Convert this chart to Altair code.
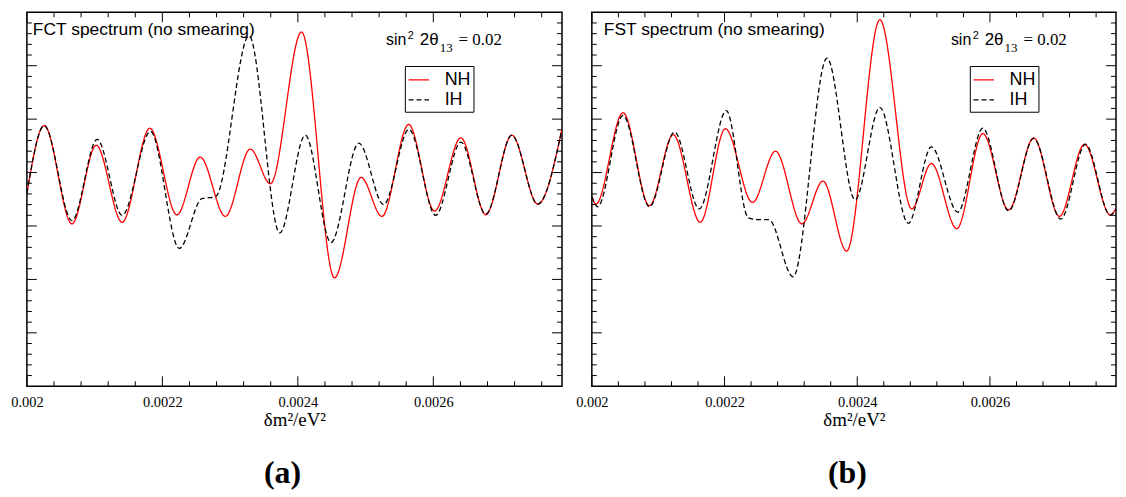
import altair as alt
import pandas as pd

# ---------------- data ----------------
# (a) FCT spectrum
fct_nh_x = [0.002000, 0.0020256, 0.0020665, 0.0021023, 0.0021406, 0.0021815, 0.0022214,
            0.0022557, 0.0022930, 0.0023298, 0.0023595, 0.0024055, 0.0024541, 0.0024934,
            0.0025241, 0.0025635, 0.0026018, 0.0026407, 0.0026775, 0.0027159, 0.0027542, 0.00279]
fct_nh_y = [3.61, 4.88, 3.04, 4.51, 3.07, 4.83, 3.21, 4.29, 3.18, 4.44, 3.79, 6.63, 2.03,
            3.91, 3.18, 4.90, 3.28, 4.65, 3.21, 4.70, 3.41, 4.82]
fct_ih_x = [0.002000, 0.0020256, 0.0020665, 0.0021038, 0.0021406, 0.0021825, 0.0022250,
            0.0022582, 0.0022787, 0.0023280, 0.0023733, 0.0024110, 0.0024489, 0.0024900,
            0.0025267, 0.0025640, 0.0026034, 0.0026407, 0.0026775, 0.0027159, 0.0027542, 0.00279]
fct_ih_y = [3.61, 4.88, 3.10, 4.62, 3.20, 4.77, 2.58, 3.51, 3.55, 6.56, 2.87, 4.70, 2.69,
            4.55, 3.40, 4.81, 3.20, 4.57, 3.22, 4.70, 3.41, 4.82]

# (b) FST spectrum
fst_nh_x = [0.002000, 0.0020061, 0.0020470, 0.0020868, 0.0021226, 0.0021634, 0.0022012,
            0.0022421, 0.0022768, 0.0023166, 0.0023483, 0.0023840, 0.0024341, 0.0024821,
            0.0025117, 0.0025500, 0.0025893, 0.0026281, 0.0026659, 0.0027047, 0.0027425,
            0.0027813, 0.00279]
fst_nh_y = [3.55, 3.41, 5.12, 3.38, 4.71, 3.07, 4.82, 3.44, 4.40, 3.04, 3.84, 2.53, 6.86,
            3.32, 4.17, 2.95, 4.73, 3.30, 4.65, 3.18, 4.53, 3.21, 3.33]
fst_ih_x = [0.002000, 0.0020087, 0.0020470, 0.0020868, 0.0021246, 0.0021619, 0.0022027,
            0.0022359, 0.0022513, 0.0022666, 0.0023033, 0.0023544, 0.0023968, 0.0024341,
            0.0024770, 0.0025117, 0.0025515, 0.0025893, 0.0026281, 0.0026659, 0.0027068,
            0.0027440, 0.0027813, 0.00279]
fst_ih_y = [3.55, 3.36, 5.07, 3.36, 4.76, 3.32, 5.16, 3.15, 3.12, 3.12, 2.05, 6.14, 3.49,
            5.22, 3.05, 4.48, 3.26, 4.83, 3.28, 4.64, 3.13, 4.53, 3.20, 3.32]

series_names = ["NH", "IH"]
series_colors = ["#ff0000", "#000000"]
series_dash = [[1, 0], [5, 3]]

x_major = [0.002, 0.0022, 0.0024, 0.0026]
x_minor = [0.00204, 0.00208, 0.00212, 0.00216, 0.00224, 0.00228, 0.00232, 0.00236,
           0.00244, 0.00248, 0.00252, 0.00256, 0.00264, 0.00268, 0.00272, 0.00276]
y_major = [1, 2, 3, 4, 5, 6]
y_minor = [0.2, 0.4, 0.6, 0.8, 1.2, 1.4, 1.6, 1.8, 2.2, 2.4, 2.6, 2.8, 3.2, 3.4, 3.6, 3.8,
           4.2, 4.4, 4.6, 4.8, 5.2, 5.4, 5.6, 5.8, 6.2, 6.4, 6.6, 6.8]

X_DOMAIN = [0.002, 0.00279]
Y_DOMAIN = [0, 7]
H = 376
SANS = "Liberation Sans"
SERIF = "Liberation Serif"

X_AXIS = alt.Axis(
    values=x_major, format="~g", ticks=False, tickSize=0, domain=False, grid=False,
    labelFont=SERIF, labelFontSize=14.5, labelColor="black", labelFlush=False,
    labelBaseline="alphabetic", labelPadding=20,
    title="δm²/eV²", titleFont=SERIF, titleFontSize=19, titleFontWeight="normal",
    titleColor="black", titleBaseline="alphabetic", titleY=39)


def tick_layers(W, xs, ys):
    layers = []
    for vals, ln in ((x_major, 10), (x_minor, 5)):
        d = pd.DataFrame({"x": vals})
        layers.append(alt.Chart(d).mark_rule(color="black", strokeWidth=1).encode(
            x=alt.X("x:Q", scale=xs, axis=X_AXIS), y=alt.value(H), y2=alt.value(H - ln)))
        layers.append(alt.Chart(d).mark_rule(color="black", strokeWidth=1).encode(
            x=alt.X("x:Q", scale=xs, axis=X_AXIS), y=alt.value(0), y2=alt.value(ln)))
    for vals, ln in ((y_major, 10), (y_minor, 5)):
        d = pd.DataFrame({"y": vals})
        layers.append(alt.Chart(d).mark_rule(color="black", strokeWidth=1).encode(
            y=alt.Y("y:Q", scale=ys, axis=None), x=alt.value(0), x2=alt.value(ln)))
        layers.append(alt.Chart(d).mark_rule(color="black", strokeWidth=1).encode(
            y=alt.Y("y:Q", scale=ys, axis=None), x=alt.value(W), x2=alt.value(W - ln)))
    return layers


def text_layer(txt, x, y, font, size, weight="normal", align="left"):
    return alt.Chart(pd.DataFrame({"s": [txt]})).mark_text(
        align=align, baseline="alphabetic", font=font, fontSize=size,
        fontWeight=weight, color="black").encode(
        x=alt.value(x), y=alt.value(y), text="s:N")


def panel(W, nh_x, nh_y, ih_x, ih_y, title, title_dx, caption):
    xs = alt.Scale(domain=X_DOMAIN, nice=False, zero=False)
    ys = alt.Scale(domain=Y_DOMAIN, nice=False, zero=False)
    df = pd.concat([
        pd.DataFrame({"x": nh_x, "y": nh_y, "h": "NH"}),
        pd.DataFrame({"x": ih_x, "y": ih_y, "h": "IH"}),
    ])
    leg = alt.Legend(orient="none", legendX=380, legendY=54, title=None,
                     strokeColor="black", fillColor="white", padding=3,
                     symbolType="stroke", symbolSize=420, symbolStrokeWidth=1.3,
                     labelFont=SANS, labelFontSize=18, labelColor="black",
                     labelOffset=15, rowPadding=0, direction="vertical")
    lines = alt.Chart(df).mark_line(interpolate="monotone", strokeWidth=1.3, clip=True).encode(
        x=alt.X("x:Q", scale=xs, axis=X_AXIS),
        y=alt.Y("y:Q", scale=ys, axis=None),
        color=alt.Color("h:N", scale=alt.Scale(domain=series_names, range=series_colors), legend=leg),
        strokeDash=alt.StrokeDash("h:N", scale=alt.Scale(domain=series_names, range=series_dash), legend=leg),
    )
    texts = [
        text_layer(title, title_dx, 22.5, SANS, 17.5),
        text_layer("sin", 361, 32.7, SANS, 16),
        text_layer("2", 383, 26.5, SANS, 11),
        text_layer("2θ", 395, 32.7, SANS, 17),
        text_layer("13", 415, 39.5, SERIF, 13),
        text_layer("= 0.02", 434, 32.7, SERIF, 17),
        text_layer(caption, 257, H + 97, SERIF, 32, "bold", "center"),
    ]
    return alt.layer(lines, *tick_layers(W, xs, ys), *texts).properties(width=W, height=H)


left = panel(538, fct_nh_x, fct_nh_y, fct_ih_x, fct_ih_y, "FCT spectrum (no smearing)", 6, "(a)")
right = panel(527, fst_nh_x, fst_nh_y, fst_ih_x, fst_ih_y, "FST spectrum (no smearing)", 12, "(b)")

chart = alt.hconcat(left, right, spacing=30, bounds="flush").resolve_scale(
    color="independent", strokeDash="independent", x="independent", y="independent"
).configure_view(stroke="black", strokeWidth=1.5).properties(
    padding={"left": 1, "top": 1, "right": 0, "bottom": 0}
)

chart.save("out.html", embed_options={"renderer": "svg", "actions": False})
